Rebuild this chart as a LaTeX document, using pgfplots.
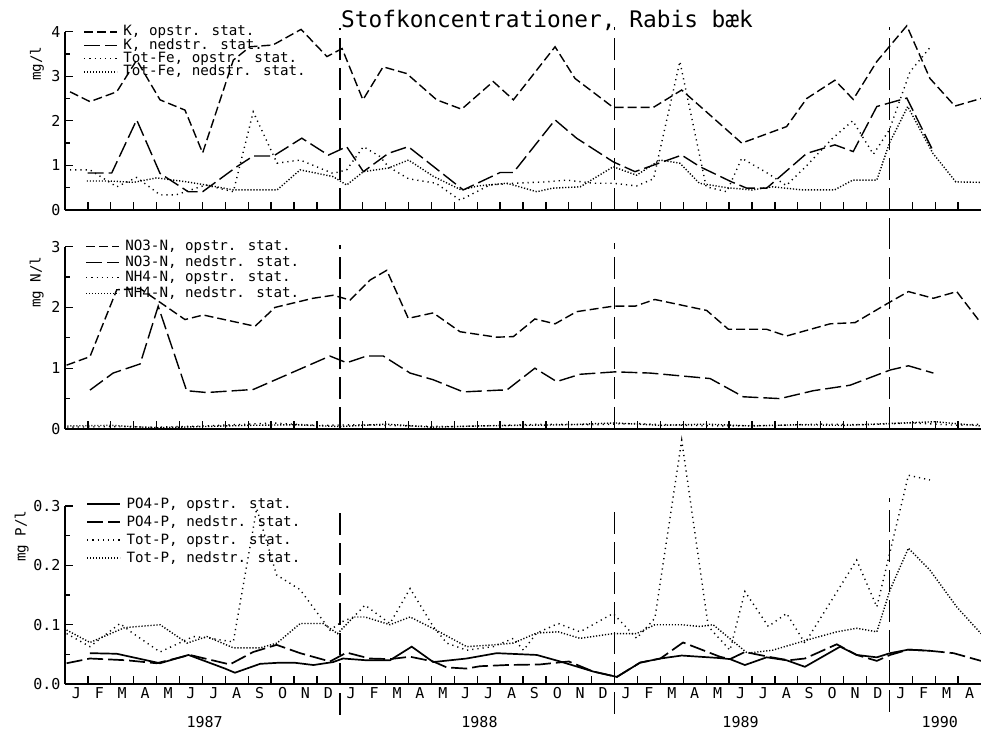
\documentclass[border=0pt]{standalone}
\usepackage{fontspec}
\usepackage{pgfplots}
\pgfplotsset{compat=1.18}
\setmainfont{DejaVu Sans Mono}
\newfontfamily\plotfont{DejaVu Sans Mono}
\newcommand\lf{\plotfont\fontsize{14.2bp}{16bp}\selectfont}
\newcommand\tf{\plotfont\fontsize{15bp}{17bp}\selectfont}
\newcommand\ttlf{\plotfont\fontsize{22.8bp}{26bp}\selectfont}

\tikzset{
  medd/.style={dash pattern=on 9bp off 4bp},
  longd/.style={dash pattern=on 16bp off 5bp},
  sparsed/.style={dash pattern=on 1.2bp off 4bp},
  densed/.style={dash pattern=on 1.2bp off 1.8bp},
  solidl/.style={solid, line width=1.7bp},
  yearline/.style={dash pattern=on 22bp off 8bp, line width=1.6bp, black},
}

\pgfplotsset{
  panel/.style={
    x=22.9bp, xmin=0, xmax=40,
    axis x line=bottom, axis y line=left,
    axis line style={-, line width=1.5bp, black},
    xtick={1,...,39}, xticklabels={},
    tick align=inside, major tick length=8bp, minor tick length=5bp,
    tick style={line width=1.3bp, black},
    minor y tick num=1,
    clip=false,
    yticklabel style={font=\tf, xshift=-1bp},
    legend cell align=left,
    legend style={draw=none, fill=none, inner sep=0pt, outer sep=0pt,
      anchor=north west, font=\lf,
      nodes={inner sep=1.5bp, text height=9.5bp, text depth=1.5bp}},
    legend image code/.code={\draw[##1, line width=1.3bp] (0bp,0bp) -- (33bp,0bp); \path (37bp,0bp);},
    every axis plot/.append style={line width=1.4bp, black},
    ylabel style={font=\lf, anchor=east},
  }
}

\begin{document}
\begin{tikzpicture}
\path[use as bounding box] (0,0) rectangle (981bp,-729bp);

% ---------------- top panel ----------------
\begin{axis}[panel, y=44.6bp, ymin=0, ymax=4,
  ytick={0,1,2,3,4}, yticklabels={0,1,2,3,4},
  at={(65bp,-210bp)}, anchor=south west,
  ylabel={mg/l}, ylabel style={at={(axis description cs:-0.0306,0.936)}},
  legend style={at={(axis cs:0.81,4.148)}, row sep=-0.7bp},
  legend entries={{K, opstr. stat.},{K, nedstr. stat.},{Tot-Fe, opstr. stat.},{Tot-Fe, nedstr. stat.}}]
\addplot[medd] coordinates {
(0.22,2.65)(1.09,2.43)(2.26,2.65)(3.13,3.36)(4.15,2.47)(5.24,2.24)(6.01,1.28)(7.35,3.36)
(8.08,3.66)(9.08,3.70)(10.31,4.05)(11.44,3.44)(12.10,3.62)(13.01,2.47)(13.89,3.21)(14.92,3.06)
(16.23,2.47)(17.32,2.26)(18.70,2.88)(19.58,2.47)(21.40,3.66)(22.27,2.95)(23.94,2.30)(25.69,2.30)
(26.93,2.69)(29.55,1.50)(31.51,1.87)(32.39,2.50)(33.62,2.91)(34.42,2.48)(35.45,3.33)(36.76,4.13)
(37.77,2.95)(38.86,2.33)(40.00,2.50)};
\addplot[longd] coordinates {
(0.99,0.83)(2.04,0.83)(3.13,2.02)(4.15,0.82)(5.38,0.41)(6.01,0.41)(7.50,0.97)(8.22,1.21)
(9.10,1.21)(10.34,1.61)(11.50,1.23)(12.30,1.42)(13.03,0.86)(14.12,1.27)(14.99,1.42)(17.39,0.45)
(19.00,0.84)(19.58,0.84)(21.40,2.02)(22.34,1.61)(23.94,1.08)(24.89,0.86)(26.93,1.23)(27.73,0.97)
(29.11,0.63)(29.77,0.49)(30.64,0.49)(32.39,1.27)(33.62,1.46)(34.42,1.31)(35.45,2.32)(36.76,2.51)
(37.92,1.31)};
\addplot[sparsed] coordinates {
(0.22,0.90)(1.09,0.90)(2.26,0.52)(3.13,0.73)(4.15,0.34)(4.85,0.34)(6.14,0.56)(7.35,0.41)
(8.22,2.20)(9.26,1.05)(10.27,1.12)(11.70,0.82)(12.30,0.90)(13.03,1.42)(13.75,1.20)(14.12,0.97)
(15.00,0.70)(16.20,0.60)(17.25,0.22)(18.55,0.56)(19.58,0.60)(21.00,0.63)(21.90,0.67)(23.10,0.60)
(23.94,0.60)(24.96,0.54)(25.70,0.70)(26.85,3.33)(28.00,0.52)(28.90,0.41)(29.55,1.16)(30.60,0.85)
(31.50,0.55)(32.40,1.00)(33.50,1.60)(34.40,2.00)(35.30,1.25)(36.00,1.80)(36.90,3.10)(37.80,3.66)};
\addplot[densed] coordinates {
(0.95,0.65)(1.97,0.65)(3.00,0.62)(4.00,0.72)(5.33,0.63)(6.30,0.55)(7.35,0.45)(8.22,0.45)
(9.26,0.45)(10.27,0.90)(11.70,0.75)(12.30,0.56)(13.03,0.86)(14.12,0.94)(15.00,1.12)(16.10,0.75)
(17.30,0.45)(18.05,0.54)(19.30,0.60)(20.60,0.41)(21.30,0.49)(22.50,0.52)(23.94,0.97)(24.96,0.78)
(25.98,1.12)(26.85,1.05)(27.70,0.60)(28.90,0.50)(30.00,0.45)(30.90,0.52)(32.20,0.45)(33.60,0.45)
(34.40,0.67)(35.45,0.67)(36.00,1.50)(36.80,2.32)(37.90,1.27)(38.90,0.63)(40.00,0.62)};
\addplot[yearline, forget plot] coordinates {(12,0)(12,4.08)};
\addplot[yearline, forget plot] coordinates {(24,0)(24,4.10)};
\addplot[yearline, forget plot] coordinates {(36,-0.67)(36,4.10)};
\node[font=\ttlf, anchor=base] at (axis cs:21.05,4.103) {Stofkoncentrationer, Rabis bæk};
\end{axis}

% ---------------- middle panel ----------------
\begin{axis}[panel, y=60.8bp, ymin=0, ymax=3,
  ytick={0,1,2,3}, yticklabels={0,1,2,3},
  at={(65bp,-429bp)}, anchor=south west,
  ylabel={mg N/l}, ylabel style={at={(axis description cs:-0.0309,0.965)}},
  legend style={at={(axis cs:0.895,3.113)}, row sep=1.5bp},
  legend entries={{NO3-N, opstr. stat.},{NO3-N, nedstr. stat.},{NH4-N, opstr. stat.},{NH4-N, nedstr. stat.}}]
\addplot[medd] coordinates {
(0.07,1.05)(1.09,1.19)(2.26,2.29)(3.28,2.31)(5.24,1.80)(6.04,1.875)(8.30,1.69)(9.17,2.00)
(10.83,2.15)(11.72,2.20)(12.45,2.12)(13.32,2.45)(14.05,2.61)(14.99,1.82)(16.08,1.91)(17.25,1.60)
(18.85,1.51)(19.58,1.52)(20.52,1.81)(21.40,1.73)(22.34,1.93)(23.94,2.02)(24.89,2.02)(25.76,2.13)
(28.02,1.95)(28.97,1.64)(30.64,1.64)(31.51,1.53)(33.41,1.73)(34.50,1.75)(36.03,2.09)(36.83,2.26)
(37.92,2.15)(38.94,2.26)(39.96,1.76)};
\addplot[longd] coordinates {
(1.09,0.64)(2.10,0.92)(3.28,1.07)(4.07,2.02)(5.31,0.63)(6.19,0.60)(8.22,0.65)(11.57,1.20)
(12.30,1.09)(13.17,1.20)(13.90,1.20)(15.07,0.92)(16.08,0.81)(17.39,0.61)(19.00,0.64)(19.29,0.64)
(20.52,1.00)(21.47,0.78)(22.49,0.90)(24.02,0.94)(25.55,0.92)(28.17,0.83)(29.62,0.53)(31.22,0.50)
(32.68,0.63)(34.28,0.72)(36.03,0.97)(36.83,1.04)(37.92,0.92)};
\addplot[sparsed] coordinates {
(0.1,0.03)(2,0.04)(4,0.03)(6,0.05)(8,0.08)(9,0.10)(11,0.06)(13,0.07)(15,0.05)(17,0.04)
(19,0.06)(21,0.08)(23,0.07)(25,0.09)(27,0.06)(29,0.05)(31,0.06)(33,0.08)(35,0.07)(37,0.10)
(39,0.06)(40,0.08)};
\addplot[densed] coordinates {
(0.1,0.05)(2,0.06)(4,0.02)(6,0.04)(8,0.06)(10,0.07)(12,0.04)(14,0.08)(16,0.03)(18,0.05)
(20,0.06)(22,0.07)(24,0.10)(26,0.06)(28,0.08)(30,0.05)(32,0.07)(34,0.06)(36,0.09)(38,0.12)
(40,0.05)};
\addplot[yearline, forget plot] coordinates {(12,0)(12,3.03)};
\addplot[yearline, forget plot] coordinates {(24,0)(24,3.06)};
\addplot[yearline, forget plot] coordinates {(36,0)(36,3.44)};
\end{axis}

% ---------------- bottom panel ----------------
\begin{axis}[panel, y=593bp, ymin=0, ymax=0.3,
  ytick={0,0.1,0.2,0.3}, yticklabels={0.0,0.1,0.2,0.3},
  at={(65bp,-684bp)}, anchor=south west,
  ylabel={mg P/l}, ylabel style={at={(axis description cs:-0.0473,0.995)}},
  extra x ticks={0.5,1.5,...,39.5},
  extra x tick labels={J,F,M,A,M,J,J,A,S,O,N,D,J,F,M,A,M,J,J,A,S,O,N,D,J,F,M,A,M,J,J,A,S,O,N,D,J,F,M,A},
  extra x tick style={major tick length=0pt, xticklabel style={font=\tf}},
  legend style={at={(axis cs:0.939,0.3153)}, row sep=4bp},
  legend entries={{PO4-P, opstr. stat.},{PO4-P, nedstr. stat.},{Tot-P, opstr. stat.},{Tot-P, nedstr. stat.}}]
\addplot[solidl] coordinates {
(1.09,0.052)(2.26,0.051)(4.15,0.035)(5.39,0.049)(6.99,0.026)(7.42,0.019)(8.52,0.034)(9.39,0.036)
(10.00,0.036)(10.85,0.032)(11.71,0.037)(12.14,0.043)(13.17,0.040)(14.19,0.040)(15.14,0.063)(16.08,0.037)
(17.54,0.043)(18.85,0.052)(20.60,0.049)(21.62,0.038)(23.07,0.021)(24.10,0.012)(25.11,0.036)(26.00,0.043)
(26.93,0.048)(28.50,0.044)(29.04,0.042)(29.69,0.032)(30.64,0.045)(31.51,0.040)(32.31,0.029)(33.85,0.063)
(34.57,0.049)(35.45,0.045)(36.03,0.052)(36.83,0.058)(37.77,0.056)};
\addplot[longd, line width=1.7bp] coordinates {
(0.07,0.035)(1.09,0.043)(2.69,0.040)(4.00,0.035)(5.45,0.049)(7.20,0.033)(8.22,0.054)(9.24,0.066)
(10.27,0.052)(11.57,0.038)(12.30,0.053)(13.30,0.043)(14.19,0.042)(15.07,0.046)(16.08,0.038)(16.67,0.028)
(17.54,0.026)(18.12,0.030)(19.29,0.032)(20.74,0.033)(22.00,0.038)(23.07,0.021)(24.10,0.012)(25.11,0.036)
(26.00,0.043)(26.99,0.070)(28.60,0.046)(29.04,0.042)(29.69,0.054)(30.71,0.046)(31.60,0.040)(32.31,0.043)
(33.70,0.067)(34.57,0.049)(35.45,0.039)(36.03,0.049)(36.83,0.058)(37.77,0.056)(38.80,0.052)(40.00,0.039)};
\addplot[sparsed] coordinates {
(0.07,0.085)(1.09,0.063)(2.40,0.102)(2.95,0.086)(4.15,0.054)(5.60,0.080)(6.20,0.078)(7.35,0.071)
(8.37,0.296)(9.24,0.184)(10.27,0.159)(11.57,0.091)(12.10,0.105)(12.60,0.113)(13.10,0.133)(14.19,0.102)
(15.07,0.161)(16.08,0.097)(16.67,0.069)(17.54,0.057)(18.70,0.063)(19.58,0.077)(20.02,0.057)(20.60,0.086)
(21.54,0.102)(22.49,0.088)(23.94,0.119)(24.96,0.077)(25.76,0.111)(26.93,0.411)(28.09,0.097)(29.04,0.057)
(29.69,0.156)(30.71,0.097)(31.51,0.119)(32.31,0.069)(34.57,0.209)(35.45,0.130)(36.83,0.352)(37.77,0.344)};
\addplot[densed] coordinates {
(0.07,0.091)(1.09,0.070)(2.05,0.086)(2.60,0.095)(4.15,0.100)(5.33,0.069)(6.20,0.080)(7.35,0.061)
(8.52,0.061)(9.26,0.069)(10.27,0.102)(11.27,0.102)(11.90,0.085)(12.60,0.113)(13.10,0.113)(14.19,0.100)
(15.07,0.113)(16.20,0.091)(17.54,0.063)(18.70,0.066)(19.58,0.069)(20.60,0.086)(21.54,0.088)(22.49,0.077)
(23.94,0.085)(24.96,0.085)(25.76,0.100)(26.93,0.100)(27.73,0.097)(28.30,0.100)(29.80,0.052)(30.90,0.057)
(32.39,0.074)(33.70,0.088)(34.57,0.094)(35.45,0.088)(36.03,0.159)(36.83,0.229)(37.77,0.192)(38.94,0.130)
(40.00,0.085)};
\addplot[yearline, forget plot] coordinates {(12,-0.052)(12,0.30)};
\addplot[yearline, forget plot] coordinates {(24,-0.050)(24,0.30)};
\addplot[yearline, forget plot] coordinates {(36,-0.047)(36,0.314)};
\node[font=\tf, anchor=base] at (axis cs:6.1,-0.0725) {1987};
\node[font=\tf, anchor=base] at (axis cs:18.1,-0.0725) {1988};
\node[font=\tf, anchor=base] at (axis cs:29.5,-0.0725) {1989};
\node[font=\tf, anchor=base] at (axis cs:38.2,-0.0725) {1990};
\end{axis}
\end{tikzpicture}
\end{document}
